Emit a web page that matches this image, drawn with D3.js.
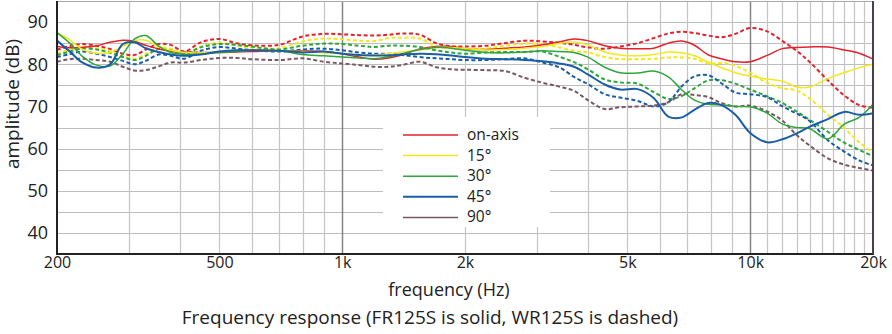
<!DOCTYPE html>
<html><head><meta charset="utf-8">
<script src="https://cdn.jsdelivr.net/npm/d3@7"></script>
<style>
html,body{margin:0;padding:0;background:#fff;}
svg{display:block;font-family:"Open Sans",Lato,sans-serif;}
</style></head>
<body><svg id="c" width="892" height="334"></svg>
<script>
const freqs = [200,215,230,250,270,290,310,330,355,380,410,450,500,550,600,700,800,900,1000,1100,1200,1300,1400,1550,1700,1850,2000,2250,2500,2800,3100,3400,3700,4000,4400,4800,5300,5800,6300,6800,7300,7900,8500,9200,10000,11000,12000,13000,14000,15500,17000,18500,20000];

const onAxisFR = [84.2,83.9,84.0,84.4,85.2,85.7,85.4,84.5,83.6,83.1, 82.9,82.8,82.8,82.9,83.0,83.2,83.2,83.0,82.5,81.7, 81.2,81.5,82.2,83.6,84.2,84.2,83.7,83.5,83.8,84.1, 84.6,85.3,86.0,85.6,84.4,83.8,83.7,83.8,85.0,85.5, 84.5,82.2,81.3,80.6,80.6,82.1,83.7,84.0,84.1,84.1, 83.4,82.6,81.2];
const onAxisWR = [83.4,84.3,84.8,84.4,83.6,82.5,82.2,83.5,84.8,84.6, 83.0,85.2,86.0,85.0,84.5,84.6,86.6,87.2,87.1,86.9, 86.8,87.0,87.3,87.0,85.0,84.3,84.2,84.4,85.0,85.6, 85.4,85.1,84.6,84.0,83.7,84.2,85.0,86.2,87.3,87.7, 87.4,86.8,86.4,87.2,88.6,87.8,85.5,83.2,80.5,76.2, 72.6,70.3,69.7];
const deg15FR = [87.4,85.8,83.6,82.6,82.8,84.3,85.6,85.7,84.2,83.3, 82.8,82.7,83.0,83.2,83.3,83.2,83.0,82.7,82.5,82.2, 82.2,82.5,82.9,83.4,84.0,84.0,83.7,83.4,83.5,83.8, 84.2,84.9,85.3,84.6,82.9,82.2,82.0,82.3,82.9,82.7, 82.0,80.5,79.2,78.0,77.2,76.5,76.0,74.6,74.6,76.6, 78.0,79.2,80.0];
const deg15WR = [82.6,83.5,84.1,83.8,83.1,82.0,81.3,82.5,83.9,83.7, 82.5,84.2,85.1,84.4,84.0,83.8,85.4,86.1,85.9,85.6, 85.5,86.2,86.3,86.1,84.2,83.8,83.7,83.7,84.4,84.9, 84.8,84.0,83.2,82.8,81.7,81.2,81.2,81.3,81.6,81.6, 81.3,80.2,80.3,79.6,78.0,75.6,74.3,73.8,71.8,68.1, 64.9,61.5,59.0];
const deg30FR = [87.5,85.0,82.0,79.8,79.6,82.5,86.0,86.8,84.3,82.8, 82.4,82.4,82.8,83.0,83.3,83.2,82.3,82.0,81.7,81.5, 81.3,81.8,82.5,83.5,84.0,83.8,83.3,82.8,82.7,82.9, 83.2,83.0,82.8,81.7,79.3,78.0,77.9,78.4,77.0,73.9, 71.5,70.5,70.4,70.0,69.9,68.4,65.8,65.0,64.7,62.3, 65.8,67.4,70.5];
const deg30WR = [82.2,83.0,83.7,83.5,82.7,81.7,81.0,82.0,83.6,83.3, 82.4,84.0,84.8,84.6,84.2,83.5,84.4,84.9,84.8,84.4, 84.1,84.4,84.4,84.1,83.3,82.8,82.5,82.8,82.9,82.9, 83.0,81.8,80.5,78.8,76.4,75.7,75.4,73.4,71.8,72.5, 74.3,76.2,76.2,75.4,74.0,72.4,70.8,68.8,66.8,64.0, 61.4,59.7,58.2];
const deg45FR = [85.6,83.0,80.5,79.2,80.0,84.8,85.2,83.8,82.9,82.3, 82.0,82.3,83.0,83.3,83.3,83.2,82.8,83.0,82.5,82.2, 82.1,82.1,82.3,82.5,82.4,82.1,81.7,81.3,81.2,81.0, 80.7,80.2,79.4,77.6,75.2,74.0,74.1,72.0,67.6,67.4, 69.2,70.8,70.3,68.0,63.7,61.5,62.2,63.6,65.2,67.0, 68.7,68.0,68.4];
const deg45WR = [81.7,82.4,83.0,82.5,81.7,80.8,80.0,80.8,82.3,82.0, 81.3,83.2,84.1,83.7,83.4,83.0,83.5,83.7,83.3,82.8, 82.5,82.5,82.2,81.7,81.4,81.2,81.0,81.0,81.2,81.4, 80.4,79.3,77.0,75.3,72.9,72.1,71.3,70.0,71.0,74.8, 77.1,77.4,75.5,73.3,72.9,72.2,70.0,68.3,66.5,62.0, 59.3,57.2,56.0];
const deg90WR = [80.6,81.2,81.3,81.0,80.6,79.4,78.5,78.6,79.5,80.4, 80.4,81.0,81.5,81.5,81.2,81.0,81.4,80.6,80.2,79.8, 79.4,79.4,79.8,80.6,79.3,78.8,78.7,78.6,78.4,76.8, 75.6,74.7,73.7,71.5,69.4,69.8,70.0,70.2,71.0,72.9, 72.7,72.2,70.8,70.0,70.2,68.8,66.6,63.2,60.7,57.7, 56.2,55.4,54.8];

const legendLabels = ["on-axis","15°","30°","45°","90°"];
const seriesColors = ["#e2222c","#f4e81c","#2ea63c","#1a5ea6","#7a5862"];
const xTickValues = [200,500,1000,2000,5000,10000,20000];
const xTickLabels = ["200","500","1k","2k","5k","10k","20k"];
const yTickValues = [40,50,60,70,80,90];
const titleText = "Frequency response (FR125S is solid, WR125S is dashed)";
const xTitle = "frequency (Hz)";
const yTitle = "amplitude (dB)";

const solidSeries = [onAxisFR, deg15FR, deg30FR, deg45FR];
const dashedSeries = [onAxisWR, deg15WR, deg30WR, deg45WR, deg90WR];

const svg = d3.select("#c");
const L = 57, R = 873, T = 1, B = 254;
const x = d3.scaleLog().domain([200,20000]).range([L,R]);
const y = d3.scaleLinear().domain([35,95]).range([B,T]);

const vgrid = [];
for (let f=300; f<1000; f+=100) vgrid.push(f);
for (let f=1000; f<10000; f+=1000) vgrid.push(f);
for (let f=10000; f<20000; f+=1000) vgrid.push(f);
const g = svg.append("g");
g.selectAll("line.h").data(d3.range(40,95,5)).join("line")
  .attr("x1",L).attr("x2",R).attr("y1",d=>Math.round(y(d))+0.5).attr("y2",d=>Math.round(y(d))+0.5)
  .attr("stroke","#bdbdbd").attr("stroke-width",1.2);
g.selectAll("line.v").data(vgrid).join("line")
  .attr("x1",d=>Math.round(x(d))+0.5).attr("x2",d=>Math.round(x(d))+0.5).attr("y1",T).attr("y2",B)
  .attr("stroke",d=>(d===1000||d===10000)?"#858585":"#c4c4c4").attr("stroke-width",d=>(d===1000||d===10000)?1.5:1.2);
g.append("line").attr("x1",L).attr("x2",R).attr("y1",T+0.5).attr("y2",T+0.5).attr("stroke","#aaa");

const lg = svg.append("g");
lg.append("rect").attr("x",383).attr("y",117).attr("width",167).attr("height",110).attr("fill","#fff");
legendLabels.forEach((lab,i)=>{
  const yy = 135 + i*20.6;
  lg.append("line").attr("x1",403).attr("x2",458).attr("y1",yy).attr("y2",yy)
    .attr("stroke",seriesColors[i]).attr("stroke-width",i===3?2:1.5);
  lg.append("text").attr("x",467).attr("y",yy+5).attr("font-size",15.5).attr("fill","#222").text(lab);
});

const line = d3.line().x((d,i)=>x(freqs[i])).y(d=>y(d)).curve(d3.curveCatmullRom.alpha(0.5));
const cg = svg.append("g").attr("fill","none");
dashedSeries.forEach((s,i)=>{
  cg.append("path").attr("d",line(s)).attr("stroke",seriesColors[i]).attr("stroke-width",2)
    .attr("stroke-dasharray","4,2.5");
});
solidSeries.forEach((s,i)=>{
  cg.append("path").attr("d",line(s)).attr("stroke",seriesColors[i]).attr("stroke-width",i===3?2:1.5);
});

const xAxis = d3.axisBottom(x).tickValues(xTickValues).tickFormat((d,i)=>xTickLabels[i]).tickSize(0).tickPadding(3);
const ax = svg.append("g").attr("transform",`translate(0,${B})`).call(xAxis);
ax.select(".domain").remove();
ax.selectAll("text").attr("font-size",16).attr("fill","#222").attr("font-family","'Open Sans', sans-serif");
const yAxis = d3.axisLeft(y).tickValues(yTickValues).tickSize(0).tickPadding(9);
const ay = svg.append("g").attr("transform",`translate(${L},0)`).call(yAxis);
ay.select(".domain").remove();
ay.selectAll("text").attr("font-size",18).attr("fill","#222").attr("font-family","'Open Sans', sans-serif");

svg.append("line").attr("x1",L).attr("x2",L).attr("y1",T).attr("y2",B+1).attr("stroke","#222").attr("stroke-width",2);
svg.append("line").attr("x1",L-1).attr("x2",R+1).attr("y1",B).attr("y2",B).attr("stroke","#222").attr("stroke-width",2);
svg.append("line").attr("x1",R).attr("x2",R).attr("y1",T).attr("y2",B).attr("stroke","#4a3f4c").attr("stroke-width",2);

svg.append("text").attr("x",449).attr("y",296).attr("text-anchor","middle").attr("font-size",18).attr("fill","#222").text(xTitle);
svg.append("text").attr("transform","translate(19,104) rotate(-90)").attr("text-anchor","middle").attr("font-size",19).attr("fill","#222").text(yTitle);
svg.append("text").attr("x",430).attr("y",324).attr("text-anchor","middle").attr("font-size",19).attr("fill","#222").text(titleText);
</script></body></html>
